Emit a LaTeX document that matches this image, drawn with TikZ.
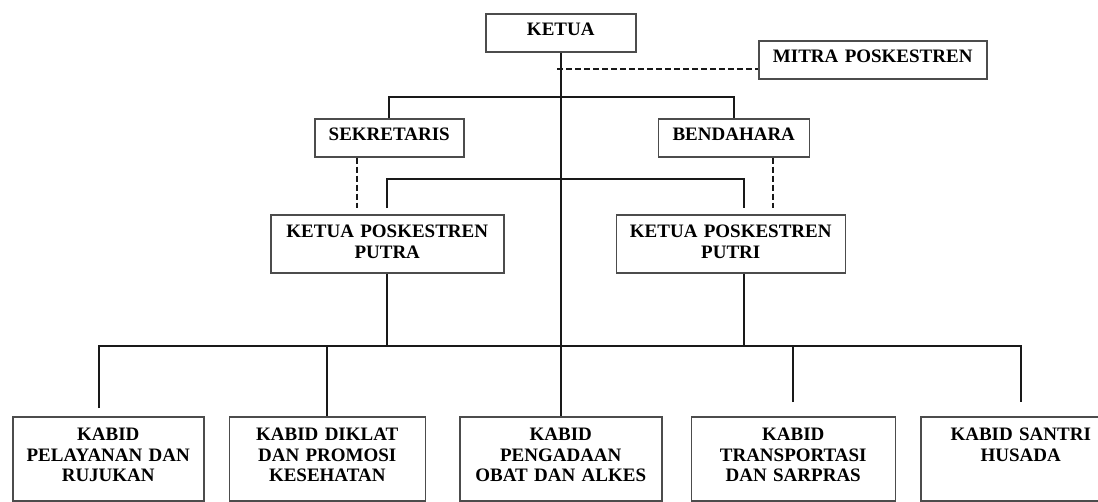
\documentclass[tikz,border=0pt]{standalone}
\usepackage{fontspec}
\setmainfont{Liberation Serif}
\usetikzlibrary{positioning}
\tikzstyle{orgbox} = [rectangle, draw=black!70, line width=1.5pt, align=center, inner sep=0pt, font=\fontsize{19}{20.5}\selectfont\bfseries]
\tikzstyle{onebox} = [orgbox, text height=22pt, text depth=16pt]
\tikzstyle{twobox} = [orgbox, text height=23pt, text depth=35pt]
\tikzstyle{kabidbox} = [orgbox, text height=24pt, text depth=60pt]
\tikzstyle{link} = [line width=2.3pt, black!90]
\tikzstyle{aside} = [line width=2.3pt, black!90, dash pattern=on 6pt off 3pt]

\begin{document}
\begin{tikzpicture}[x=1pt, y=-1pt]
    \useasboundingbox (0,0) rectangle (1098,501);

    \node (ketua) [onebox, text width=150pt, anchor=north west] at (485,13) {KETUA};
    \node (mitra) [onebox, text width=228pt, anchor=north west] at (758,40) {MITRA POSKESTREN};
    \node (sekretaris) [onebox, text width=149pt, anchor=north west] at (314,118) {SEKRETARIS};
    \node (bendahara) [onebox, text width=151pt, right=193pt of sekretaris] {BENDAHARA};
    \node (putra) [twobox, text width=233pt, anchor=north west] at (270,214) {KETUA POSKESTREN\\PUTRA};
    \node (putri) [twobox, text width=229pt, right=111pt of putra] {KETUA POSKESTREN\\PUTRI};
    \node (kabid1) [kabidbox, text width=191pt, anchor=north west] at (12,416) {KABID\\PELAYANAN DAN\\RUJUKAN};
    \node (kabid2) [kabidbox, text width=196pt, right=24pt of kabid1] {KABID DIKLAT\\DAN PROMOSI\\KESEHATAN};
    \node (kabid3) [kabidbox, text width=202pt, right=33pt of kabid2] {KABID\\PENGADAAN\\OBAT DAN ALKES};
    \node (kabid4) [kabidbox, text width=204pt, right=28pt of kabid3] {KABID\\TRANSPORTASI\\DAN SARPRAS};
    \node (kabid5) [kabidbox, text width=200pt, right=24pt of kabid4] {KABID SANTRI\\HUSADA};

    % joints on the lines
    \coordinate (hub) at (kabid3.north |- ketua.south);
    \coordinate (mitrajoin) at (557,69);
    \coordinate (topbar) at (557,97);
    \coordinate (midbar) at (557,179);
    \coordinate (botbar) at (557,346);
    \coordinate (sekdash) at ([xshift=-32pt]sekretaris.south);
    \coordinate (bendash) at ([xshift=39pt]bendahara.south);
    \coordinate (putritop) at ([xshift=13pt]putri.north);
    \coordinate (putribot) at ([xshift=13pt]putri.south);
    \coordinate (kabid1top) at ([xshift=-9pt]kabid1.north);

    \draw [link] (hub) -- (kabid3.north);
    \draw [aside] (mitrajoin) -- (mitrajoin -| mitra.west);
    \draw [link] (sekretaris.north) |- (topbar) -| (bendahara.north);
    \draw [aside, shorten >=6pt] (sekdash) -- (sekdash |- putra.north);
    \draw [aside, shorten >=6pt] (bendash) -- (bendash |- putri.north);
    \draw [link, shorten <=6pt, shorten >=6pt] (putra.north) |- (midbar) -| (putritop);

    \draw [link] (putra.south) -- (putra.south |- botbar);
    \draw [link] (putribot) -- (putribot |- botbar);
    \draw [link, shorten <=8pt, shorten >=14pt] (kabid1top) |- (botbar) -| (kabid5.north);
    \draw [link] (kabid2.north) -- (kabid2.north |- botbar);
    \draw [link, shorten <=14pt] (kabid4.north) -- (kabid4.north |- botbar);
\end{tikzpicture}
\end{document}
